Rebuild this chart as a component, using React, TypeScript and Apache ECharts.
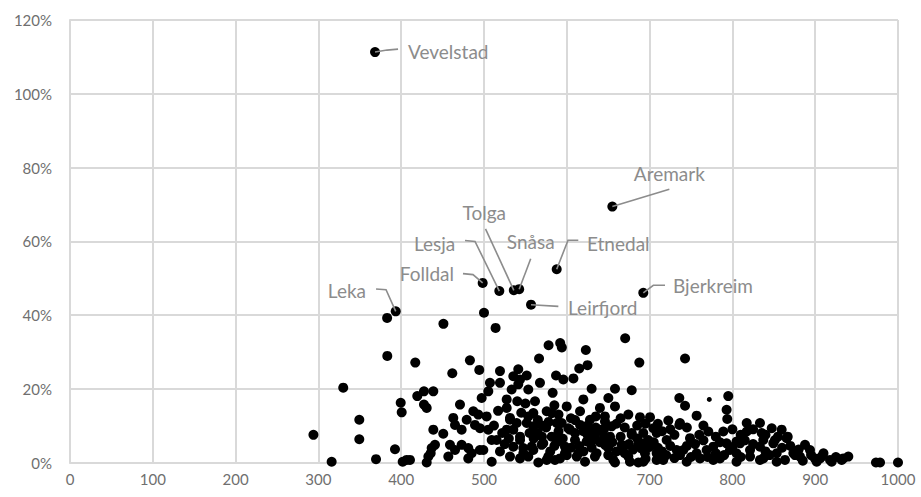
import React, { useEffect, useRef } from "react";
import * as echarts from "echarts";

// Unnamed municipalities: x value and share in percent
const pointX = [
  383, 500, 451, 514, 670.5, 578, 592, 594, 566.5, 623, 687.6, 742.8, 625, 615, 587, 551.6, 595.8, 608,
  383.2, 417, 483, 494.3, 461.7, 519.3, 541.4, 330, 294, 349.4, 349.4, 316, 369.6, 392.5, 399.4, 400.6,
  401.8, 419.4, 427.5, 438.8, 427.5, 430.8, 406.6, 410.6, 430.8, 438.8, 450.8, 440.8, 435.6, 465, 456.9,
  471, 462.9, 465, 473, 479.1, 487.1, 493.1, 497.2, 503.2, 495.2, 505.2, 473, 485.1, 499.2, 509.3, 515.3,
  509.3, 507.2, 519.3, 505.2, 527.4, 533.4, 543.5, 553.5, 540.2, 567.6, 582.9, 561.6, 599.9, 620, 630,
  640, 559.6, 575.7, 616, 628, 559.6, 587.8, 603.9, 616, 543.5, 535.4, 547.5, 559.6, 571.6, 587.8, 597.8,
  575.7, 591.8, 632, 640, 636, 612, 531.4, 535.4, 531.4, 551.6, 527.4, 658.2, 678.4, 650.2, 735.9, 742.8,
  795, 793, 793.8, 756.8, 658.2, 674.3, 688.4, 700.5, 722.6, 735.9, 646.1, 704.5, 678.4, 770.9, 789,
  817.3, 833.3, 847.5, 817.3, 835.4, 865.5, 748.8, 634, 652.2, 720.6, 887.7, 893.7, 805, 833.3, 849.4,
  768.9, 797.1, 692.4, 668.2, 708.5, 736.7, 634, 656.2, 676.3, 692.4, 716.5, 744.8, 760.9, 785, 805,
  821.3, 837.3, 853.5, 873.6, 881.6, 905.8, 917.9, 933.9, 940, 973.4, 978.3, 1000, 901.8, 708.5, 732.7,
  740.7, 756.8, 776.9, 793, 809.2, 805, 821.3, 837.3, 708.5, 776.9, 833.3, 736.7, 581.8, 553.5, 593.8,
  601.8, 642.1, 678.4, 692.4, 581.8, 589.7, 609.9, 624, 630, 569.6, 557.6, 646.1, 666.3, 686.4, 698.4,
  553.5, 577.7, 597.8, 613.9, 650.1, 674.3, 694.4, 565.6, 585.7, 622, 658.2, 686.4, 646, 654.2, 489.1,
  436.8, 432.8, 458.9, 481, 495, 519.3, 481, 531.4, 539.5, 527.4, 543.5, 547.5, 543.5, 535.4, 541.4,
  859.5, 866.8, 853.5, 875.6, 907.8, 919.9, 932, 899.6, 863.5, 851.4,
  560, 565, 570, 575, 580, 585, 590, 595, 600, 605, 610, 615, 620, 625, 630, 635, 640, 645, 650, 655,
  660, 665, 670, 675, 680, 685, 690, 695, 700, 705, 710, 715, 720, 725, 730, 745, 750, 755, 765, 770,
  780, 790, 800, 810, 815, 825, 840, 845, 860, 870, 880, 885, 895, 910, 925,
  512, 517, 522, 525, 530, 545, 550, 555, 565, 570, 578, 585, 590, 605, 610, 620, 625, 635, 645, 660,
  665, 670, 685, 695, 710, 715, 725, 730, 745, 760, 765, 780, 785, 800, 810, 825, 840, 855,
];
const pointY = [
  39.2, 40.6, 37.6, 36.5, 33.7, 31.8, 32.4, 31.2, 28.2, 30.5, 27.1, 28.2, 26.4, 25.5, 23.6, 23.6, 22.5, 22.8,
  28.9, 27.1, 27.7, 25.1, 24.2, 24.8, 25.3, 20.3, 7.5, 11.6, 6.3, 0.2, 0.9, 3.6, 16.2, 13.6,
  0.2, 18, 19.3, 19.3, 15.7, 14.8, 0.7, 0.7, 0, 8.9, 7.8, 4.8, 2.5, 3.4, 1.6,
  15.7, 12.1, 10.2, 8.9, 11.6, 13.9, 13, 17.5, 12.5, 9.3, 8.9, 4.8, 2.5, 3.4, 6.1, 6.1,
  0.2, 21.6, 21.6, 19.3, 14.8, 19.8, 22.5, 19.8, 16.6, 21.6, 18.9, 16.6, 15.2, 17.1, 20,
  14.8, 13.4, 13.9, 13.9, 11.6, 9.8, 10.7, 8.9, 10.2, 6.1, 4.3, 2.5, 3.4, 5.2, 6.1, 4.3,
  0.7, 1.1, 6.1, 8.9, 2.5, 1.6, 1.6, 8.9, 11.6, 10.7, 17.1, 20, 19.6, 17.5, 17.5, 15.4,
  18, 14.3, 11.8, 12.7, 15.2, 13, 12.3, 12.3, 11.4, 10.2, 11.1, 9.3, 8, 8.4, 8.4,
  10.7, 10.7, 9.3, 8.4, 8, 6.6, 6.6, 7, 7, 6.1, 4.8, 3.4, 5.7, 4.3, 5.2,
  3.4, 3.4, 5.2, 4.3, 2.5, 2, 1.6, 0.7, 0.2, 0.2, 0.7, 0.2, 1.1, 1.1, 0.2,
  1.6, 1.1, 0.2, 2.5, 1.6, 1.1, 0.7, 1.1, 1.6, 0, 0, 0, 0.2, 8, 3.4,
  3.4, 2.5, 4.3, 5.2, 5.2, 2.5, 3.4, 6.1, 0.7, 0.7, 0.7, 10.7, 13.4, 12.5, 10.7,
  9.3, 8.4, 7.5, 8, 7, 5.7, 6.1, 5.7, 8, 4.8, 4.3, 4.8, 4.8, 4.8, 6.1,
  1.6, 1.6, 2.5, 2.5, 2, 1.6, 2.5, 0, 0.7, 0.2, 0, 0, 12.5, 9.8, 10.2,
  3.9, 1.6, 4.8, 3.9, 3.4, 3, 1.1, 12.1, 10.7, 8.9, 7, 3.9, 1.1, 23.4, 21.2,
  8.9, 7, 2.5, 2, 1.6, 0.2, 0.7, 1.1, 0.7, 6.1,
  6.5, 8, 7, 9.5, 3, 4.5, 8.5, 6.5, 2, 4, 8, 4.5, 3, 7.5, 4, 9.5, 5.5, 6.8, 4, 5.5,
  3, 7, 2.5, 5, 3.5, 6.5, 3.8, 1, 4.2, 5.5, 4, 3, 2, 4.5, 1.2, 4.5, 1.5, 5, 6, 1.5,
  2.5, 2, 4.2, 1.5, 6, 5, 3, 2, 4, 4.5, 3.5, 0.5, 2, 2.5, 1.5,
  10, 14, 8, 5, 6.5, 13.5, 16, 8, 11.5, 10, 11, 15.5, 13, 12, 11.5, 8.5, 10, 12.5, 9, 10.5,
  12, 9.5, 10, 10.5, 10.5, 8.5, 9, 7.5, 9.5, 7.5, 10, 7, 5.5, 9, 7.5, 9, 7.5, 7,
];

// One small marker drawn at a reduced size
const smallPointX = [772.1];
const smallPointY = [17.1];

// Named municipalities
const namedTowns = ["Vevelstad", "Aremark", "Tolga", "Lesja", "Snåsa", "Etnedal", "Folldal", "Leka", "Leirfjord", "Bjerkreim"];
const namedX = [368.4, 655, 536, 518.5, 542.5, 587.8, 498.4, 393.4, 556.8, 692.4];
const namedY = [111.3, 69.4, 46.7, 46.5, 47, 52.4, 48.7, 41, 42.8, 46];

// Axis ticks
const xTicks = { min: 0, max: 1000, step: 100 };
const yTicks = { min: 0, max: 120, step: 20 };

// Leader-line geometry (pixel offsets from each dot) and label anchors
const callouts: { path: number[][]; dx: number; dy: number; align: "left" | "right" | "center" }[] = [
  { path: [[0, 0], [12, -2], [23, -3]], dx: 33, dy: -1, align: "left" },
  { path: [[0, 0], [57, -17.3]], dx: 57, dy: -32.6, align: "center" },
  { path: [[0, 0], [-28.3, -61.5]], dx: -29.5, dy: -77.5, align: "center" },
  { path: [[0, 0], [-24.3, -49.6], [-34.3, -50.6]], dx: -44, dy: -48, align: "right" },
  { path: [[0, 0], [11.5, -30.5]], dx: 11.5, dy: -47.2, align: "center" },
  { path: [[0, 0], [11.3, -29], [21.6, -29]], dx: 30.3, dy: -26, align: "left" },
  { path: [[0, 0], [-9.7, -8.3], [-19.7, -9.3]], dx: -28.7, dy: -9.5, align: "right" },
  { path: [[0, 0], [-9.7, -21.6], [-19.7, -22.3]], dx: -29.7, dy: -20.5, align: "right" },
  { path: [[0, 0], [27.3, 1.7]], dx: 37, dy: 3, align: "left" },
  { path: [[0, 0], [10, -7.6], [21.7, -7.6]], dx: 29.7, dy: -7.6, align: "left" },
];

const GRID = "#d9d9d9";
const LABEL = "#6f6f6f";
const CALLOUT = "#8c8c8c";

export default function App() {
  const ref = useRef<HTMLDivElement>(null);

  useEffect(() => {
    if (!ref.current) return;
    const chart = echarts.init(ref.current, undefined, { renderer: "svg" });

    const points = pointX.map((x, i) => [x, pointY[i]]);
    const named = namedX.map((x, i) => [x, namedY[i]]);
    const small = smallPointX.map((x, i) => [x, smallPointY[i]]);

    chart.setOption({
      animation: false,
      backgroundColor: "#ffffff",
      grid: { left: 70, right: 23, top: 20, bottom: 34.5, containLabel: false },
      xAxis: {
        type: "value",
        min: xTicks.min,
        max: xTicks.max,
        interval: xTicks.step,
        axisLine: { show: true, lineStyle: { color: GRID, width: 2 } },
        axisTick: { show: false },
        splitLine: { show: true, lineStyle: { color: GRID, width: 2 } },
        axisLabel: {
          color: LABEL,
          fontSize: 15,
          fontFamily: "Lato",
          margin: 9,
          formatter: (v: number) => String(v),
        },
      },
      yAxis: {
        type: "value",
        min: yTicks.min,
        max: yTicks.max,
        interval: yTicks.step,
        axisLine: { show: true, lineStyle: { color: GRID, width: 2 } },
        axisTick: { show: false },
        splitLine: { show: true, lineStyle: { color: GRID, width: 2 } },
        axisLabel: { color: LABEL, fontSize: 15, fontFamily: "Lato", margin: 18, formatter: "{value}%" },
      },
      series: [
        {
          type: "scatter",
          data: points,
          symbolSize: 10,
          itemStyle: { color: "#000000", opacity: 1 },
          z: 2,
        },
        {
          type: "scatter",
          data: small,
          symbolSize: 5,
          itemStyle: { color: "#000000", opacity: 1 },
          z: 2,
        },
        {
          type: "scatter",
          data: named,
          symbolSize: 10,
          itemStyle: { color: "#000000", opacity: 1 },
          z: 3,
        },
        {
          type: "custom",
          data: named,
          z: 4,
          renderItem: (params: any, api: any) => {
            const i = params.dataIndex;
            const c = api.coord([api.value(0), api.value(1)]);
            const lay = callouts[i];
            return {
              type: "group",
              children: [
                {
                  type: "polyline",
                  shape: { points: lay.path.map(([dx, dy]) => [c[0] + dx, c[1] + dy]) },
                  style: { stroke: CALLOUT, lineWidth: 1.6, fill: null },
                },
                {
                  type: "text",
                  x: c[0] + lay.dx,
                  y: c[1] + lay.dy,
                  style: {
                    text: namedTowns[i],
                    fill: CALLOUT,
                    font: "19px Lato",
                    align: lay.align,
                    verticalAlign: "middle",
                  },
                },
              ],
            };
          },
        },
      ],
    });

    return () => chart.dispose();
  }, []);

  return (
    <div
      ref={ref}
      style={{ position: "fixed", left: 0, top: 0, width: 921, height: 497, background: "#ffffff" }}
    />
  );
}
